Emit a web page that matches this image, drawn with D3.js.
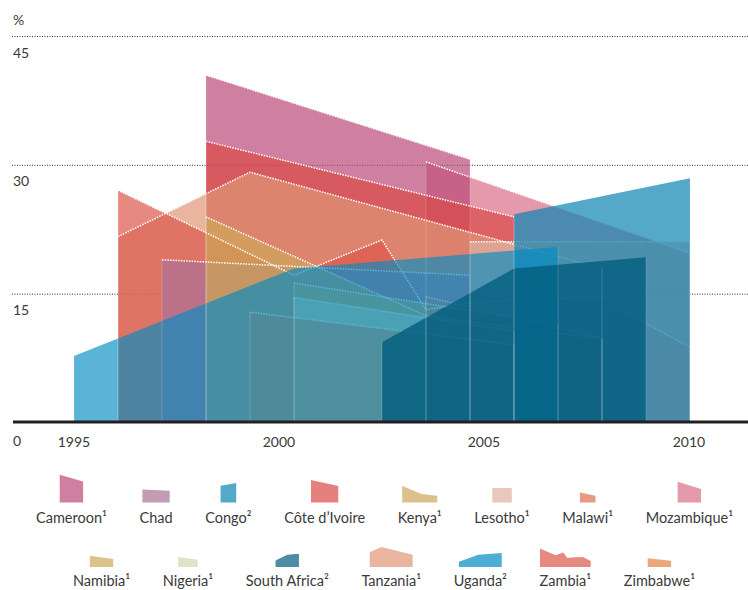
<!DOCTYPE html>
<html><head><meta charset="utf-8">
<script src="https://cdn.jsdelivr.net/npm/d3@7"></script>
<style>
body{margin:0;background:#fff;}
svg{display:block;font-family:Lato,"Open Sans",sans-serif;}
</style></head><body>
<svg id="chart" width="748" height="590"></svg>
<script>
// ---- data: [survey column index (0..14), percent] ----
const cameroon   = [[3,40.5],[9,30.7]];
const chad       = [[2,19.0],[9,17.2]];
const congo      = [[10,24.3],[14,28.5]];
const coteIvoire = [[3,32.8],[10,24.0]];
const kenya      = [[3,24.0],[8,12.5],[12,9.8]];
const lesotho    = [[9,21.1],[14,21.1]];
const malawi     = [[8,14.7],[12,9.8]];
const mozambique = [[8,30.4],[14,19.8]];
const namibia    = [[5,16.3],[11,11.5]];
const nigeria    = [[5,14.6],[10,10.7]];
const southAfrica= [[7,9.4],[10,18.0],[13,19.3]];
const tanzania   = [[1,21.7],[4,29.2],[12,18.0]];
const uganda     = [[0,7.8],[5,18.0],[11,20.5]];
const zambia     = [[1,27.1],[5,17.2],[7,21.3],[8,13.2],[9,14.0],[10,14.3],[11,14.4],[12,14.6],[13,11.6],[14,8.8]];
const zimbabwe   = [[4,12.9],[10,9.1]];

const legendRow1 = ["Cameroon¹","Chad","Congo²","Côte d’Ivoire","Kenya¹","Lesotho¹","Malawi¹","Mozambique¹"];
const legendRow2 = ["Namibia¹","Nigeria¹","South Africa²","Tanzania¹","Uganda²","Zambia¹","Zimbabwe¹"];
const yTicks = [15,30,45];
const yearTicks = [1995,2000,2005,2010];

// ---- styling ----
const series = {
  "Cameroon¹":     {data:cameroon,   color:"#ba4876", op:0.7},
  "Chad":          {data:chad,       color:"#ab7095", op:0.7},
  "Congo²":        {data:congo,      color:"#0c83b0", op:0.7},
  "Côte d’Ivoire": {data:coteIvoire, color:"#da4a47", op:0.7},
  "Kenya¹":        {data:kenya,      color:"#cda858", op:0.7},
  "Lesotho¹":      {data:lesotho,    color:"#deb09f", op:0.7},
  "Malawi¹":       {data:malawi,     color:"#de6f4f", op:0.7},
  "Mozambique¹":   {data:mozambique, color:"#da6f87", op:0.7},
  "Namibia¹":      {data:namibia,    color:"#cdaa58", op:0.7},
  "Nigeria¹":      {data:nigeria,    color:"#d1d7b0", op:0.7},
  "South Africa²": {data:southAfrica,color:"#005c7d", op:0.78},
  "Tanzania¹":     {data:tanzania,   color:"#e09575", op:0.7},
  "Uganda²":       {data:uganda,     color:"#018cc3", op:0.65},
  "Zambia¹":       {data:zambia,     color:"#db584c", op:0.7},
  "Zimbabwe¹":     {data:zimbabwe,   color:"#e28344", op:0.7}
};
const warmOrder = ["Mozambique¹","Cameroon¹","Côte d’Ivoire","Tanzania¹","Zambia¹","Chad","Kenya¹","Lesotho¹","Namibia¹","Nigeria¹","Zimbabwe¹","Malawi¹"];
const coolOrder = ["Congo²","Uganda²","South Africa²"];

const svg = d3.select("#chart");
const x = d3.scaleLinear().domain([0,14]).range([74,690]);
const xYear = d3.scaleLinear().domain([1995,2010]).range([74,689]);
const y = d3.scaleLinear().domain([0,45]).range([423,36.5]);
const textCol = "#3a3a3a";

// gridlines
svg.append("g").selectAll("line").data(yTicks).join("line")
  .attr("x1",12).attr("x2",748)
  .attr("y1",d=>y(d)).attr("y2",d=>y(d))
  .attr("stroke","#333").attr("stroke-width",1).attr("stroke-dasharray","1,1.5");
svg.append("g").selectAll("text").data(yTicks).join("text")
  .attr("x",13).attr("y",d=>y(d)+21)
  .attr("font-size",14).attr("fill",textCol).text(d=>d);
svg.append("text").attr("x",13).attr("y",25).attr("font-size",14).attr("fill",textCol).text("%");
svg.append("text").attr("x",13).attr("y",446).attr("font-size",14).attr("fill",textCol).text("0");

const area = d3.area().x(d=>x(d[0])).y0(y(0)).y1(d=>y(d[1]));
const line = d3.line().x(d=>x(d[0])).y(d=>y(d[1]));

const gWarm = svg.append("g");
warmOrder.forEach(k=>{
  const s = series[k];
  gWarm.append("path").attr("d",area(s.data)).attr("fill",s.color).attr("fill-opacity",s.op);
});
const gLines = svg.append("g");
warmOrder.forEach(k=>{
  const s = series[k];
  gLines.append("path").attr("d",line(s.data)).attr("fill","none")
    .attr("stroke","#fff").attr("stroke-width",1.5).attr("stroke-dasharray","1.5,1.2");
});
const gCool = svg.append("g");
coolOrder.forEach(k=>{
  const s = series[k];
  gCool.append("path").attr("d",area(s.data)).attr("fill",s.color).attr("fill-opacity",s.op);
});
// vertical edges
const gEdges = svg.append("g");
Object.keys(series).forEach(k=>{
  const d = series[k].data, a = d[0], b = d[d.length-1];
  gEdges.append("path")
    .attr("d",`M${x(a[0])},${y(0)}V${y(a[1])}M${x(b[0])},${y(0)}V${y(b[1])}`)
    .attr("stroke","#fff").attr("stroke-opacity",0.17).attr("stroke-width",1).attr("fill","none");
});

// baseline
svg.append("line").attr("x1",13).attr("x2",748).attr("y1",422).attr("y2",422)
  .attr("stroke","#231f20").attr("stroke-width",3);

// year labels
svg.append("g").selectAll("text").data(yearTicks).join("text")
  .attr("x",d=>xYear(d)).attr("y",447).attr("text-anchor","middle")
  .attr("font-size",14).attr("fill",textCol).text(d=>d);

// legend
const ix = d3.scaleLinear().domain([0,1]).range([0,3.9]);
const iy = d3.scaleLinear().domain([0,1]).range([0,0.685]);
function legendRow(names, baseY, iconBottom, left, right){
  const g = svg.append("g");
  const texts = names.map(n=>g.append("text").attr("font-size",14.5).attr("fill",textCol).attr("text-anchor","middle").text(n));
  const widths = texts.map(t=>t.node().getComputedTextLength());
  const total = d3.sum(widths);
  const gap = (right-left-total)/(names.length-1);
  let cx = left;
  names.forEach((n,i)=>{
    const c = cx + widths[i]/2;
    texts[i].attr("x",c).attr("y",baseY);
    const d = series[n].data, k0 = d[0][0], k1 = d[d.length-1][0];
    const w = ix(k1-k0);
    const ia = d3.area().x(p=>c - w/2 + ix(p[0]-k0)).y0(iconBottom).y1(p=>iconBottom - iy(p[1]));
    g.append("path").attr("d",ia(d)).attr("fill",series[n].color).attr("fill-opacity",0.7);
    cx += widths[i] + gap;
  });
}
legendRow(legendRow1, 523, 502.5, 36, 733);
legendRow(legendRow2, 586, 567, 73, 695);
</script>
</body></html>
